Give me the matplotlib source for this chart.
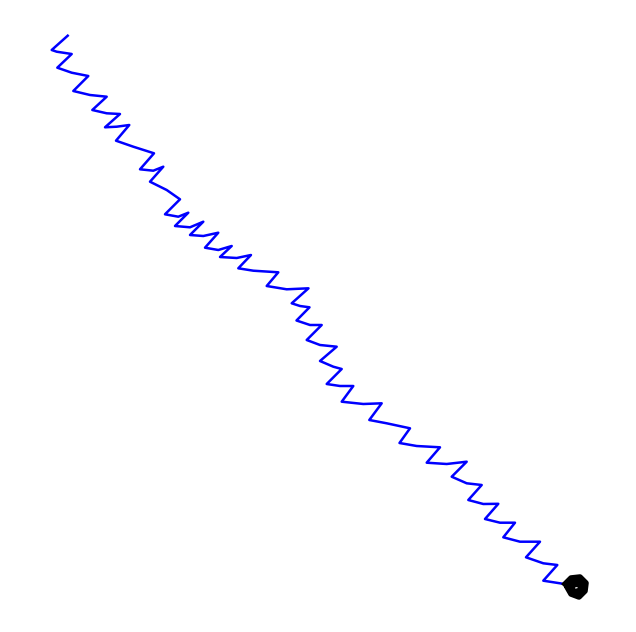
import numpy as np
from matplotlib import pyplot as plt

# blue trajectory (x to the right, y downward)
walk_x = [67.7, 51.7, 56.7, 71.7, 57.3, 71.7, 88.3, 73.3, 90, 106.7, 92.3, 106.7, 120,
          105, 116.7, 129.3, 116, 133.3, 154, 140, 153.3, 163.3, 150, 166.7, 180,
          165, 178.3, 188.3, 175, 190, 203.3, 190, 203.3, 218.3, 205, 218.3, 231.7,
          220, 236.7, 251, 238.3, 253.3, 278.3, 266.7, 286.7, 308.5, 291.7, 300, 309.5,
          296.5, 310, 321.7, 306.7, 320, 336.7, 320, 333.3, 341.7, 326.7, 340, 353.3,
          341.7, 363.3, 381.7, 369.3, 386.7, 410, 399.5, 416.7, 440, 426.7, 446.7, 466.7,
          451.7, 466.7, 481.7, 468.3, 483.3, 498.3, 485, 500, 515, 503.3, 520, 540,
          526, 543.3, 557.3, 543.3, 560, 570]
walk_y = [35.7, 50, 51.7, 54, 67.7, 72.7, 76, 91, 95, 96.7, 110, 113.3, 114,
          127.3, 126.7, 125, 140.7, 146.7, 153.3, 169.3, 170.7, 166.7, 181.7, 190, 199.3,
          214.3, 216.7, 212.7, 226, 227.3, 221.7, 235, 236, 232.7, 247.7, 250, 246,
          257, 258, 255, 268.3, 270.7, 272.3, 286, 289.3, 288.3, 303.3, 306, 307.3,
          320.5, 325, 325, 340, 345, 346.7, 361, 366.7, 369, 384, 386, 386,
          401.7, 404, 403.3, 420, 423.3, 428.3, 443, 446, 447.3, 462.7, 464, 461.7,
          476.7, 483.3, 485, 500, 504, 503.8, 519, 522.7, 522.7, 537.3, 541.7, 541.7,
          557.3, 563.3, 565, 580.7, 583.3, 585]

# black trajectory: a tight tangle at the end
still_x = [565, 571, 580, 586, 585, 579, 571, 567, 573, 581, 581, 574, 571, 577, 584, 576]
still_y = [584, 578, 577, 583, 591, 597, 594, 587, 581, 583, 590, 592, 586, 584, 588, 594]

fig = plt.figure(figsize=(6.36, 6.32), dpi=100)
ax = fig.add_axes([0, 0, 1, 1])
ax.plot(walk_x, walk_y, color="#0000ff", linewidth=1.8, solid_joinstyle="round")
ax.plot(still_x, still_y, color="black", linewidth=4, solid_joinstyle="round")
ax.set_xlim(0, 636)
ax.set_ylim(632, 0)
ax.axis("off")
fig.savefig("out.png", dpi=100)
